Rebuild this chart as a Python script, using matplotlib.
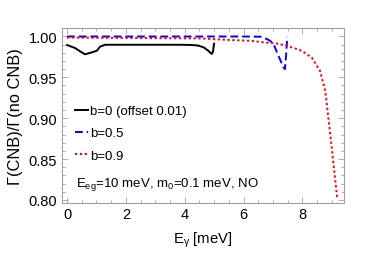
"""Ratio of decay rates with / without CNB versus photon energy."""
import matplotlib
import matplotlib.pyplot as plt
from matplotlib.ticker import MultipleLocator

matplotlib.use("Agg")

plt.rcParams["font.family"] = ["Liberation Sans", "DejaVu Sans"]
plt.rcParams["mathtext.fontset"] = "custom"
plt.rcParams["mathtext.rm"] = "Liberation Sans"
plt.rcParams["mathtext.it"] = "Liberation Sans"
plt.rcParams["mathtext.default"] = "regular"

# ── data ─────────────────────────────────────────────────────────────────────
x_b0 = [0.0, 0.27, 0.45, 0.61, 0.84, 1.01, 1.12, 1.29, 2.0, 3.0, 3.8, 4.18,
        4.45, 4.64, 4.78, 4.86, 4.92, 4.96, 4.98, 5.0]
y_b0 = [0.9894, 0.9857, 0.9815, 0.978, 0.9804, 0.9824, 0.9873, 0.9897, 0.9897,
        0.9897, 0.9897, 0.9895, 0.9888, 0.9866, 0.983, 0.9804, 0.9784, 0.981,
        0.9866, 0.991]

x_b05 = [0.0, 2.0, 4.0, 6.0, 6.6, 6.79, 6.9, 7.02, 7.19, 7.36, 7.41, 7.45, 7.49]
y_b05 = [0.9998, 0.9998, 0.9998, 0.9998, 0.9995, 0.9967, 0.9946, 0.9906, 0.976,
         0.962, 0.960, 0.978, 0.9995]

x_b09 = [0.0, 2.0, 4.52, 5.54, 6.22, 6.9, 7.02, 7.47, 7.98, 8.32, 8.6, 8.78,
         8.91, 9.06, 9.19]
y_b09 = [0.9985, 0.998, 0.9975, 0.9955, 0.9946, 0.9918, 0.992, 0.9885, 0.9824,
         0.974, 0.958, 0.9335, 0.893, 0.844, 0.801]

labels = ["b=0 (offset 0.01)", "b=0.5", "b=0.9"]
note = r"E$_{eg}$=10 meV, m$_0$=0.1 meV, NO"

# ── figure ───────────────────────────────────────────────────────────────────
fig = plt.figure(figsize=(3.74, 2.55), dpi=100)
ax = fig.add_axes([0.166, 0.2, 0.754, 0.686])

ax.plot(x_b0, y_b0, color="black", lw=1.4, label=labels[0])
ax.plot(x_b05, y_b05, color="#0000ff", lw=1.4, ls=(0, (4, 2)), label=labels[1])
ax.plot(x_b09, y_b09, color="#ff0000", lw=1.4, ls=(0, (1.2, 1.3)), label=labels[2])

ax.set_xlim(-0.17, 9.42)
ax.set_ylim(0.7963, 1.0101)

frame = "#a0a0a0"
for sp in ax.spines.values():
    sp.set_color(frame)
    sp.set_linewidth(0.8)

ax.xaxis.set_major_locator(MultipleLocator(2))
ax.xaxis.set_minor_locator(MultipleLocator(0.5))
ax.yaxis.set_major_locator(MultipleLocator(0.05))
ax.yaxis.set_minor_locator(MultipleLocator(0.01))
ax.yaxis.set_major_formatter(plt.FuncFormatter(lambda v, _: f"{v:.2f}"))
ax.tick_params(which="both", direction="in", top=True, right=True,
               color=frame, width=0.6, labelsize=10.5)
ax.tick_params(which="major", length=4)
ax.tick_params(which="minor", length=2)
ax.tick_params(axis="y", pad=3.4)
ax.tick_params(axis="x", pad=3)

ax.set_xlabel(r"E$_\gamma$ [meV]", fontsize=10.7, labelpad=6)
ax.set_ylabel("Γ(CNB)/Γ(no CNB)", fontsize=11.8, labelpad=4)

ax.legend(loc="upper left", bbox_to_anchor=(0.045, 0.56), frameon=False,
          fontsize=9.5, handlelength=1.0, handletextpad=0.15, labelspacing=0.75,
          borderpad=0, borderaxespad=0)

ax.text(0.05, 0.109, note, transform=ax.transAxes, fontsize=9.5, va="center")

fig.savefig("out.png", dpi=100)
